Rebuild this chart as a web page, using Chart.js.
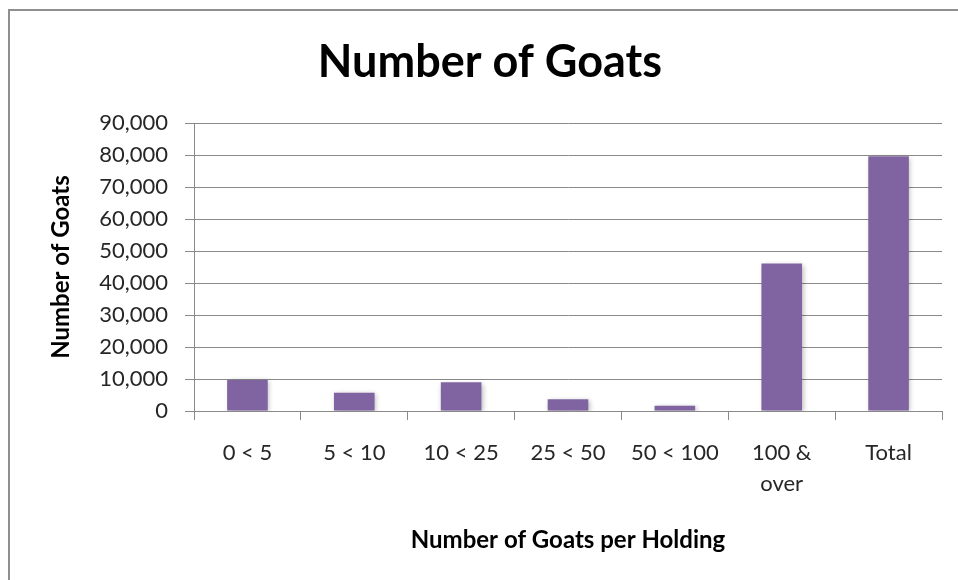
<!DOCTYPE html>
<html>
<head>
<meta charset="utf-8">
<script src="https://cdn.jsdelivr.net/npm/chart.js@4/dist/chart.umd.min.js"></script>
<style>
  html, body { margin: 0; padding: 0; background: #ffffff; overflow: hidden; }
  #wrap { width: 980px; height: 580px; position: relative; }
</style>
</head>
<body>
<div id="wrap"><canvas id="goats" width="980" height="580"></canvas></div>
<script>
// Holding-size classes and goat counts
const categories = ['0 < 5', '5 < 10', '10 < 25', '25 < 50', '50 < 100', ['100 &', 'over'], 'Total'];
const goatCounts = [9700, 5700, 9000, 3650, 1650, 46100, 79600];
const yTicks = [0, 10000, 20000, 30000, 40000, 50000, 60000, 70000, 80000, 90000];

const FONT = 'Lato, "Open Sans", "DejaVu Sans", sans-serif';
const GRID = '#8a8a8a';

// Grey frame around the chart
const framePlugin = {
  id: 'frame',
  beforeDraw(chart) {
    const ctx = chart.ctx;
    ctx.save();
    ctx.fillStyle = '#ffffff';
    ctx.fillRect(0, 0, chart.width, chart.height);
    ctx.strokeStyle = '#8f8f8f';
    ctx.lineWidth = 2;
    ctx.strokeRect(9, 10, 2000, 2000);
    ctx.restore();
  }
};

// Soft drop shadow under the bars
const shadowPlugin = {
  id: 'barShadow',
  beforeDatasetsDraw(chart) {
    const ctx = chart.ctx;
    ctx.save();
    ctx.shadowColor = 'rgba(0,0,0,0.28)';
    ctx.shadowBlur = 5;
    ctx.shadowOffsetX = 1.5;
    ctx.shadowOffsetY = 1.5;
  },
  afterDatasetsDraw(chart) {
    chart.ctx.restore();
  }
};

new Chart(document.getElementById('goats'), {
  type: 'bar',
  data: {
    labels: categories,
    datasets: [{
      label: 'Number of Goats',
      data: goatCounts,
      backgroundColor: '#8064A2',
      borderWidth: 0,
      categoryPercentage: 1,
      barPercentage: 0.38
    }]
  },
  options: {
    responsive: false,
    animation: false,
    devicePixelRatio: 1,
    layout: { padding: 0 },
    plugins: {
      legend: { display: false },
      tooltip: { enabled: false },
      title: {
        display: true,
        text: 'Number of Goats',
        color: '#000000',
        font: { family: FONT, size: 45, weight: 'bold', lineHeight: 1.2 },
        padding: { top: 35, bottom: 34 }
      }
    },
    scales: {
      x: {
        offset: true,
        grid: { display: true, drawOnChartArea: false, drawTicks: true, tickLength: 9, color: GRID, offset: true },
        border: { display: true, color: GRID, width: 1 },
        ticks: {
          color: '#262626',
          font: { family: FONT, size: 22, lineHeight: 1.4 },
          padding: 18,
          maxRotation: 0,
          autoSkip: false
        },
        title: {
          display: true,
          text: 'Number of Goats per Holding',
          color: '#000000',
          font: { family: FONT, size: 24, weight: 'bold', lineHeight: 1.2 },
          padding: { top: 0, bottom: 25 }
        },
        afterFit(scale) { scale.height = 169; }
      },
      y: {
        min: 0,
        max: 90000,
        afterBuildTicks(scale) { scale.ticks = yTicks.map(v => ({ value: v })); },
        grid: { color: GRID, lineWidth: 1, drawTicks: true, tickLength: 9 },
        border: { display: true, color: GRID, width: 1 },
        ticks: {
          color: '#262626',
          font: { family: FONT, size: 22 },
          padding: 17,
          callback: v => v.toLocaleString('en-US')
        },
        title: {
          display: true,
          text: 'Number of Goats',
          color: '#000000',
          font: { family: FONT, size: 24, weight: 'bold', lineHeight: 1.2 },
          padding: { top: 47, bottom: 0 }
        },
        afterFit(scale) { scale.width = 194; }
      },
      // empty margin on the right of the plot
      yRight: {
        position: 'right',
        display: true,
        grid: { display: false, drawTicks: false },
        border: { display: false },
        ticks: { display: false },
        afterFit(scale) { scale.width = 38; }
      }
    }
  },
  plugins: [framePlugin, shadowPlugin]
});
</script>
</body>
</html>
